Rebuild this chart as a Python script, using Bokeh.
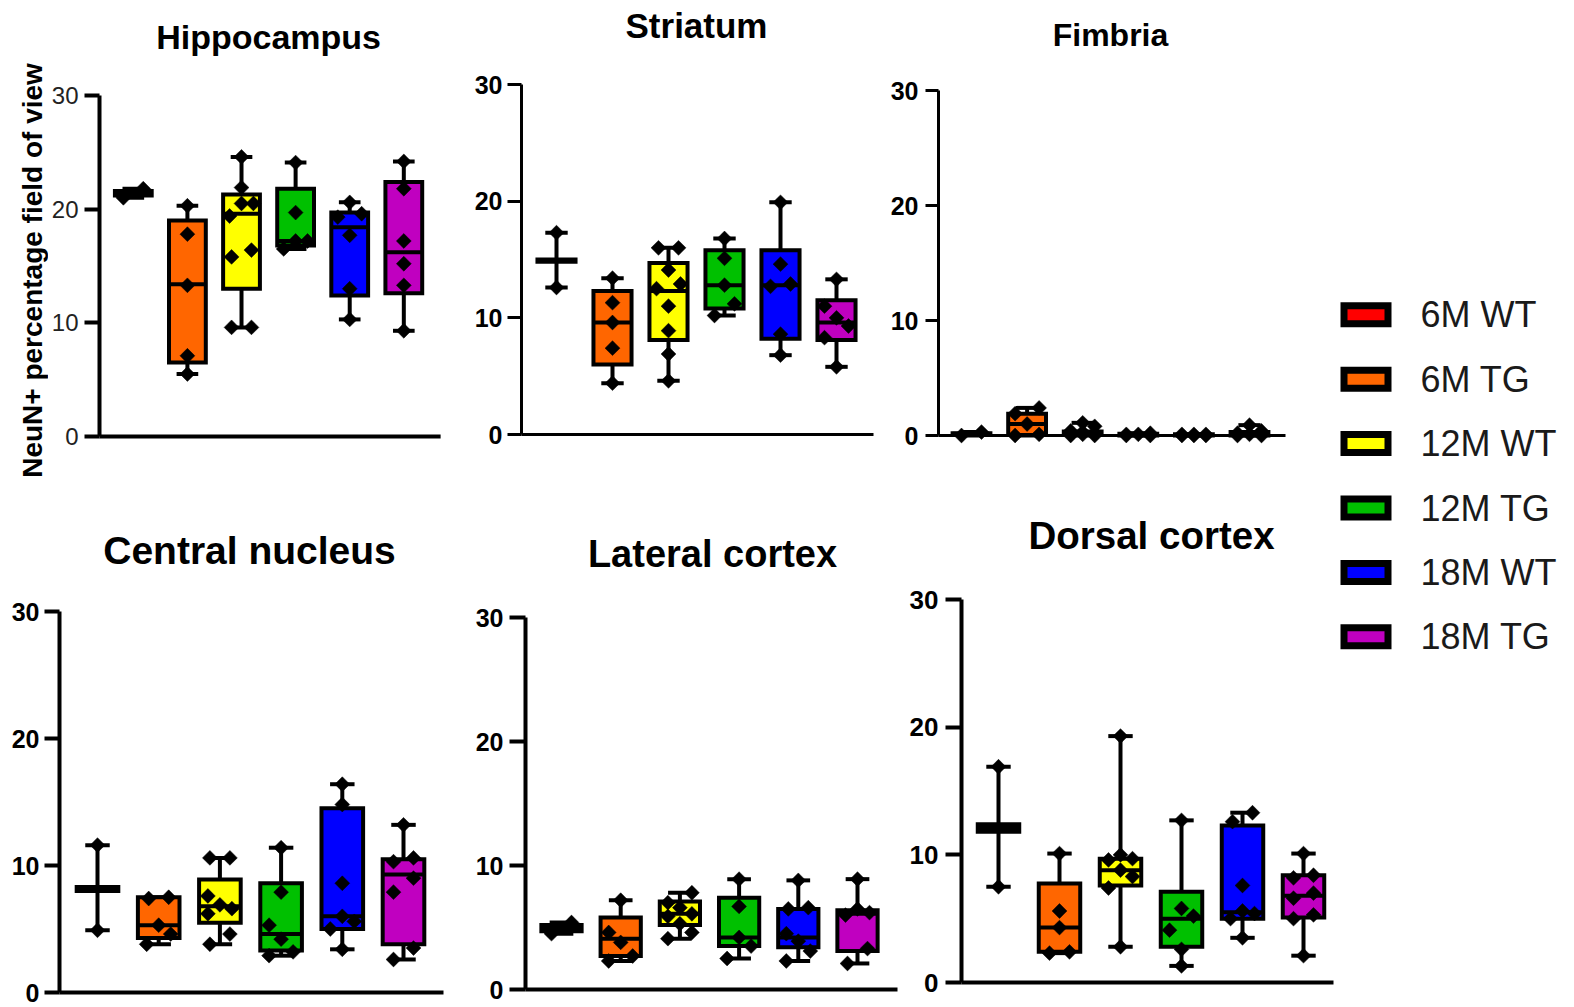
import numpy as np
from bokeh.plotting import figure
from bokeh.layouts import row, column
from bokeh.models import Range1d, FixedTicker
from bokeh.core.properties import value
from bokeh.embed import file_html
from bokeh.resources import INLINE

# ---------------- data ----------------
GROUPS = ["6M WT", "6M TG", "12M WT", "12M TG", "18M WT", "18M TG"]
COLORS = ["#FF0000", "#FF6600", "#FFFF00", "#00C000", "#0000FF", "#C000C0"]
TICKS = [0, 10, 20, 30]
Y_LABEL = "NeuN+ percentage field of view"

hippocampus_points = [
    [21.0, 21.8],
    [20.3, 17.8, 13.3, 7.1, 5.5],
    [24.6, 21.9, 20.5, 20.5, 19.4, 16.4, 15.8, 9.6, 9.6],
    [24.1, 19.7, 17.2, 17.2, 16.5],
    [20.6, 19.6, 19.3, 17.7, 13.0, 10.3],
    [24.2, 21.8, 17.2, 15.2, 13.3, 9.3],
]
hippocampus_q1 = [21.2, 6.5, 13.0, 16.8, 12.4, 12.6]
hippocampus_med = [21.4, 13.4, 19.6, 17.2, 18.4, 16.2]
hippocampus_q3 = [21.6, 19.0, 21.3, 21.8, 19.7, 22.4]

striatum_points = [
    [17.3, 12.6],
    [13.4, 11.3, 9.6, 7.4, 4.4],
    [16.0, 16.0, 14.1, 12.9, 12.5, 11.0, 8.9, 6.9, 4.6],
    [16.8, 15.1, 12.8, 11.2, 10.2],
    [19.9, 14.6, 12.9, 12.7, 8.6, 6.8],
    [13.3, 11.0, 10.0, 9.3, 8.3, 5.8],
]
striatum_q1 = [14.8, 6.0, 8.1, 10.8, 8.2, 8.1]
striatum_med = [14.9, 9.6, 12.3, 12.8, 12.8, 9.6]
striatum_q3 = [15.0, 12.3, 14.7, 15.8, 15.8, 11.5]

fimbria_points = [
    [0.0, 0.3],
    [2.4, 1.9, 1.0, 0.1, 0.0],
    [1.1, 0.8, 0.4, 0.3, 0.2, 0.1, 0.1, 0.0, 0.0],
    [0.2, 0.1, 0.1, 0.0, 0.0],
    [0.1, 0.1, 0.1, 0.0, 0.0, 0.0],
    [0.9, 0.4, 0.2, 0.1, 0.0, 0.0],
]
fimbria_q1 = [0.1, 0.05, 0.05, 0.0, 0.0, 0.0]
fimbria_med = [0.15, 1.0, 0.2, 0.1, 0.05, 0.15]
fimbria_q3 = [0.2, 1.9, 0.35, 0.15, 0.1, 0.3]

central_points = [
    [11.6, 4.9],
    [7.5, 7.4, 5.3, 4.6, 3.8],
    [10.6, 10.6, 7.6, 6.9, 6.6, 6.2, 4.6, 3.8],
    [11.4, 7.9, 5.3, 4.2, 3.2, 2.9],
    [16.4, 14.8, 8.6, 6.0, 5.6, 5.0, 3.4],
    [13.2, 10.6, 10.3, 9.0, 7.9, 3.5, 2.6],
]
central_q1 = [8.0, 4.3, 5.5, 3.3, 5.0, 3.8]
central_med = [8.15, 5.3, 6.8, 4.6, 6.0, 9.3]
central_q3 = [8.3, 7.5, 8.9, 8.6, 14.5, 10.5]

lateral_points = [
    [5.4, 4.5],
    [7.2, 4.6, 3.8, 2.7, 2.3],
    [7.8, 7.0, 6.6, 6.1, 5.9, 5.3, 4.6, 4.1],
    [8.9, 6.7, 4.2, 3.5, 2.5],
    [8.8, 6.6, 6.5, 4.5, 3.9, 3.1, 2.3],
    [8.9, 6.5, 6.2, 6.0, 3.3, 2.1],
]
lateral_q1 = [4.7, 2.7, 5.2, 3.5, 3.4, 3.1]
lateral_med = [4.95, 4.1, 6.1, 4.2, 4.2, 6.1]
lateral_q3 = [5.2, 5.8, 7.1, 7.4, 6.5, 6.4]

dorsal_points = [
    [16.9, 7.5],
    [10.1, 5.6, 4.3, 2.4, 2.3],
    [19.3, 10.0, 9.7, 9.6, 8.8, 8.3, 7.4, 2.8],
    [12.7, 5.8, 5.2, 4.1, 2.6, 1.3],
    [13.3, 12.6, 7.6, 5.6, 5.4, 5.0, 3.5],
    [10.1, 8.4, 8.2, 7.0, 6.6, 5.3, 5.0, 2.1],
]
dorsal_q1 = [11.8, 2.4, 7.6, 2.8, 5.0, 5.1]
dorsal_med = [12.1, 4.3, 8.8, 5.0, 5.5, 6.8]
dorsal_q3 = [12.4, 7.75, 9.7, 7.1, 12.3, 8.4]

# ---------------- layout (page pixels, origin at top-left) ----------------
FONT = "Liberation Sans"
TOP = (0, 485)
BOT = (485, 1007)
RIGHT = 1572
LABEL_W = 48

LAYOUT = {
    "Hippocampus": dict(fx=(LABEL_W, 460), fy=TOP, ax=97, aend=440, py0=436, py30=95,
                        c1=131, c6=403, title=(267, 36, "34px"), lw=4, tick_out=15,
                        standoff=6, tfs="24px", tstyle="normal"),
    "Striatum": dict(fx=(460, 880), fy=TOP, ax=521, aend=873, py0=434, py30=84,
                     c1=556, c6=836, title=(696, 25, "35px"), lw=3, tick_out=14,
                     standoff=5, tfs="25px", tstyle="bold"),
    "Fimbria": dict(fx=(880, RIGHT), fy=TOP, ax=938, aend=1285, py0=435, py30=90,
                    c1=971, c6=1249, title=(1110, 34, "32px"), lw=3, tick_out=13,
                    standoff=7, tfs="25px", tstyle="bold"),
    "Central nucleus": dict(fx=(0, 462), fy=BOT, ax=59, aend=443, py0=992, py30=611,
                            c1=97, c6=403, title=(249, 550, "39px"), lw=4, tick_out=15,
                            standoff=5, tfs="25px", tstyle="bold"),
    "Lateral cortex": dict(fx=(462, 905), fy=BOT, ax=525, aend=897, py0=989, py30=617,
                           c1=561, c6=857, title=(712, 553, "38px"), lw=4, tick_out=16,
                           standoff=6, tfs="25px", tstyle="bold"),
    "Dorsal cortex": dict(fx=(905, RIGHT), fy=BOT, ax=961, aend=1333, py0=982, py30=599,
                          c1=998, c6=1303, title=(1151, 535, "38.5px"), lw=4, tick_out=16,
                          standoff=7, tfs="26px", tstyle="bold"),
}

BOX_W = 0.68
CAP_W = 0.4
LEG_X_BOX = 1365.5
LEG_X_TEXT = 1420
LEG_Y0 = 314.3
LEG_DY = 64.4


def jitter_px(vals, sy):
    """Spread points of similar value sideways (Prism-like scatter)."""
    v = np.asarray(vals, dtype=float)
    order = np.argsort(v, kind="stable")
    sv = v[order]
    clusters = [[0]]
    for i in range(1, len(sv)):
        if (sv[i] - sv[i - 1]) * sy < 15:
            clusters[-1].append(i)
        else:
            clusters.append([i])
    offs = np.zeros(len(sv))
    pattern3 = [-12.0, 12.0, 0.0]
    for c in clusters:
        k = len(c)
        if k == 2:
            offs[c[0]], offs[c[1]] = -10.0, 10.0
        elif k >= 3:
            for j, idx in enumerate(c):
                offs[idx] = pattern3[j % 3]
    out = np.zeros(len(sv))
    out[order] = offs
    return out


def make_panel(name, points, q1, med, q3, legend_rows=()):
    g = LAYOUT[name]
    fx0, fx1 = g["fx"]
    fy0, fy1 = g["fy"]
    sx = (g["c6"] - g["c1"]) / 5.0
    sy = (g["py0"] - g["py30"]) / 30.0

    def X(px):
        return 1 + (px - g["c1"]) / sx

    def Y(py):
        return (g["py0"] - py) / sy

    p = figure(width=fx1 - fx0, height=fy1 - fy0,
               x_range=Range1d(X(g["ax"]), X(fx1)), y_range=Range1d(Y(fy1), Y(fy0)),
               output_backend="svg", toolbar_location=None,
               min_border_left=g["ax"] - fx0, min_border_right=0,
               min_border_top=0, min_border_bottom=0)
    p.outline_line_color = None
    p.xgrid.visible = False
    p.ygrid.visible = False
    p.xaxis.visible = False
    p.background_fill_color = "white"
    p.border_fill_color = "white"

    ya = p.yaxis[0]
    ya.ticker = FixedTicker(ticks=TICKS)
    ya.bounds = (0, 30)
    ya.axis_line_width = g["lw"]
    ya.axis_line_color = "black"
    ya.major_tick_line_width = g["lw"]
    ya.major_tick_line_color = "black"
    ya.major_tick_out = g["tick_out"]
    ya.major_tick_in = 0
    ya.minor_tick_out = 0
    ya.minor_tick_in = 0
    ya.major_label_standoff = g["standoff"]
    ya.major_label_text_font = FONT
    ya.major_label_text_font_size = g["tfs"]
    ya.major_label_text_font_style = g["tstyle"]
    ya.major_label_text_color = "#222222" if g["tstyle"] == "normal" else "black"

    # x axis line at y = 0
    p.segment(x0=[X(g["ax"]) - 0.1], y0=[0], x1=[X(g["aend"])], y1=[0],
              line_width=g["lw"], line_color="black", line_cap="butt")

    xs = np.arange(1, len(GROUPS) + 1, dtype=float)
    lo = [min(v) for v in points]
    hi = [max(v) for v in points]

    # whiskers and caps
    p.segment(x0=xs, y0=q3, x1=xs, y1=hi, line_width=4, line_color="black", line_cap="butt")
    p.segment(x0=xs, y0=q1, x1=xs, y1=lo, line_width=4, line_color="black", line_cap="butt")
    p.segment(x0=xs - CAP_W / 2, y0=hi, x1=xs + CAP_W / 2, y1=hi, line_width=4,
              line_color="black", line_cap="butt")
    p.segment(x0=xs - CAP_W / 2, y0=lo, x1=xs + CAP_W / 2, y1=lo, line_width=4,
              line_color="black", line_cap="butt")
    # boxes
    p.vbar(x=xs, width=BOX_W, bottom=q1, top=q3, fill_color=COLORS,
           line_color="black", line_width=4, line_join="miter")
    # medians
    p.segment(x0=xs - BOX_W / 2, y0=med, x1=xs + BOX_W / 2, y1=med, line_width=4,
              line_color="black", line_cap="butt")

    # individual points
    px_all, py_all = [], []
    for i, vals in enumerate(points):
        offs = jitter_px(vals, sy) / sx
        px_all.extend(list(xs[i] + offs))
        py_all.extend(list(vals))
    p.scatter(x=px_all, y=py_all, marker="square", angle=np.pi / 4, size=10.5,
              fill_color="black", line_color="black", line_width=0.5)

    # panel title
    tx, ty, tfs = g["title"]
    p.text(x=[X(tx)], y=[Y(ty)], text=[name], text_align="center",
           text_baseline="middle", text_font=value(FONT), text_font_style="bold",
           text_font_size=tfs, text_color="black")

    # legend entries
    for i in legend_rows:
        ly = LEG_Y0 + LEG_DY * i
        p.rect(x=[X(LEG_X_BOX)], y=[Y(ly)], width=44, height=18, width_units="screen",
               height_units="screen", fill_color=COLORS[i], line_color="black", line_width=7,
               line_join="miter")
        p.text(x=[X(LEG_X_TEXT)], y=[Y(ly)], text=[GROUPS[i]], text_align="left",
               text_baseline="middle", text_font=value(FONT), text_font_size="36px",
               text_color="#1a1a1a")
    return p


p1 = make_panel("Hippocampus", hippocampus_points, hippocampus_q1, hippocampus_med, hippocampus_q3)
p2 = make_panel("Striatum", striatum_points, striatum_q1, striatum_med, striatum_q3)
p3 = make_panel("Fimbria", fimbria_points, fimbria_q1, fimbria_med, fimbria_q3, legend_rows=(0, 1, 2))
p4 = make_panel("Central nucleus", central_points, central_q1, central_med, central_q3)
p5 = make_panel("Lateral cortex", lateral_points, lateral_q1, lateral_med, lateral_q3)
p6 = make_panel("Dorsal cortex", dorsal_points, dorsal_q1, dorsal_med, dorsal_q3, legend_rows=(3, 4, 5))

# strip holding the shared y-axis title, left of the first panel
lab = figure(width=LABEL_W, height=TOP[1] - TOP[0], x_range=Range1d(0, LABEL_W),
             y_range=Range1d(TOP[1], TOP[0]), output_backend="svg", toolbar_location=None,
             x_axis_type=None, y_axis_type=None, min_border=0)
lab.outline_line_color = None
lab.xgrid.visible = False
lab.ygrid.visible = False
lab.text(x=[32], y=[270], text=[Y_LABEL], angle=np.pi / 2, text_align="center",
         text_baseline="middle", text_font=value(FONT), text_font_style="bold",
         text_font_size="28px", text_color="black")

layout = column(row(lab, p1, p2, p3, spacing=0), row(p4, p5, p6, spacing=0), spacing=0)

with open("out.html", "w") as f:
    f.write(file_html(layout, INLINE))
